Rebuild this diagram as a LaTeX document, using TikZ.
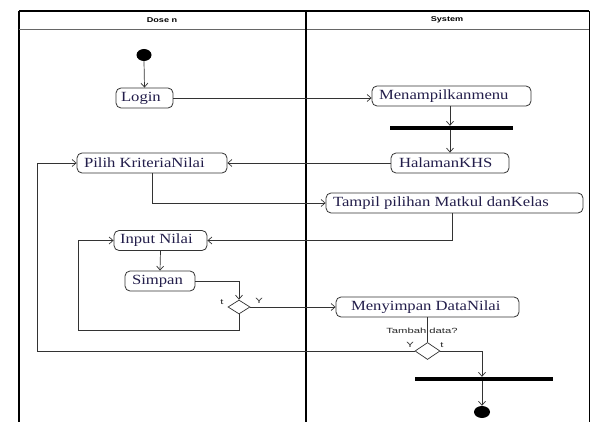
\documentclass[tikz,border=0pt]{standalone}
\usepackage{fontspec}
\setmainfont{Liberation Serif}
\newfontfamily\actfont[FakeStretch=1.19]{Liberation Serif}
\newfontfamily\hdrfont[FakeStretch=1.3]{Liberation Sans}
\newfontfamily\lblfont[FakeStretch=1.5]{Liberation Sans}
\usetikzlibrary{arrows.meta,shapes.geometric,calc}
\definecolor{actink}{RGB}{35,30,75}
\newcommand\abx[3]{\makebox[#1][l]{\hspace*{#2}#3}}
\begin{document}
\begin{tikzpicture}[x=1pt,y=-1pt,
 act/.style={draw=black!80, line width=0.8pt, rounded corners=5pt, fill=white,
   inner xsep=0pt, inner ysep=0pt, minimum height=20pt,
   font=\actfont\fontsize{14}{14}\selectfont, text=actink},
 flow/.style={draw=black!80, line width=0.7pt},
 arr/.style={flow, -{Straight Barb[length=4pt,width=7pt]}},
 barnode/.style={fill=black, draw=none, minimum height=4pt, inner sep=0pt},
 dec/.style={diamond, draw=black!80, line width=0.7pt, fill=white, inner sep=0pt},
 dot/.style={ellipse, fill=black, draw=none, inner sep=0pt},
 lbl/.style={font=\lblfont\fontsize{7.5}{7.5}\selectfont, text=black!85, inner sep=0pt},
 hdr/.style={font=\hdrfont\bfseries\fontsize{7}{7}\selectfont, inner sep=0pt}
]
\useasboundingbox[fill=white] (0,0) rectangle (591,422);

% swimlane frame
\draw[line width=1.2pt] (19,11) -- (589,11);
\draw[line width=1.5pt] (19,11) -- (19,422);
\draw[line width=0.8pt] (589,11) -- (589,422);
\draw[line width=0.8pt, black!60] (19,29) -- (589,29);
\draw[line width=2pt] (305.5,11) -- (305.5,422);
\node[hdr] (hdosen) at (162,20) {Dose n};
\node[hdr] (hsystem) at (447,20) {System};

% nodes
\node[dot, minimum width=15pt, minimum height=12pt] (start) at (144,55) {};
\node[act] (login) at (144.5,98) {\abx{57pt}{5pt}{Login}};
\node[act] (menu) at (451.5,96) {\abx{159pt}{7pt}{Menampilkanmenu}};
\node[barnode, minimum width=123pt] (bar1) at (451.5,128) {};
\node[act] (halaman) at (450,163) {\abx{118pt}{8pt}{HalamanKHS}};
\node[act] (pilih) at (152,163) {\abx{150pt}{7pt}{Pilih KriteriaNilai}};
\node[act] (tampil) at (454.5,203) {\abx{257pt}{7pt}{Tampil pilihan Matkul danKelas}};
\node[act] (input) at (160.5,240.5) {\abx{93pt}{6pt}{Input Nilai}};
\node[act] (simpan) at (160,281) {\abx{70pt}{7pt}{Simpan}};
\node[dec, minimum width=22pt, minimum height=14pt] (d1) at (239,307) {};
\node[act] (menyimpan) at (427.5,307) {\abx{183pt}{15pt}{Menyimpan DataNilai}};
\node[dec, minimum width=25pt, minimum height=17pt] (d2) at (427.5,351) {};
\node[barnode, minimum width=138pt] (bar2) at (484,379) {};
\node[dot, minimum width=16pt, minimum height=12pt] (endc) at (482,412) {};

% labels
\node[lbl] (lt1) at (222,302) {t};
\node[lbl] (ly1) at (259,301) {Y};
\node[lbl] (ltambah) at (422,331) {Tambah data?};
\node[lbl] (ly2) at (410,345) {Y};
\node[lbl] (lt2) at (442,345) {t};

% helper coordinates
\coordinate (loopA) at (78,330);
\coordinate (loopB) at (37,351);
\coordinate (joinT) at (452,203);

% connectors
\draw[arr] (start.south) -- (login.north);
\draw[arr] (login.east) -- (login.east -| menu.west);
\draw[arr] (menu.south -| halaman.north) -- (bar1.north -| halaman.north);
\draw[arr] (bar1.south -| halaman.north) -- (halaman.north);
\draw[arr] (halaman.west) -- (pilih.east);
\draw[arr] (pilih.south) |- (tampil.west);
\draw[arr] (tampil.south -| joinT) |- (input.east);
\draw[arr] (input.south) -- (simpan.north);
\draw[arr] (simpan.east) -| (d1.north);
\draw[arr] (d1.east) -- (menyimpan.west);
\draw[arr] (d1.south) -- (d1.south |- loopA) -- (loopA) |- (input.west);
\draw[flow] (menyimpan.south) -- (d2.north);
\draw[arr] (d2.west) -- (loopB) |- (pilih.west);
\draw[arr] (d2.east) -| (endc.north |- bar2.north);
\draw[arr] (endc.north |- bar2.south) -- (endc.north);
\end{tikzpicture}
\end{document}
